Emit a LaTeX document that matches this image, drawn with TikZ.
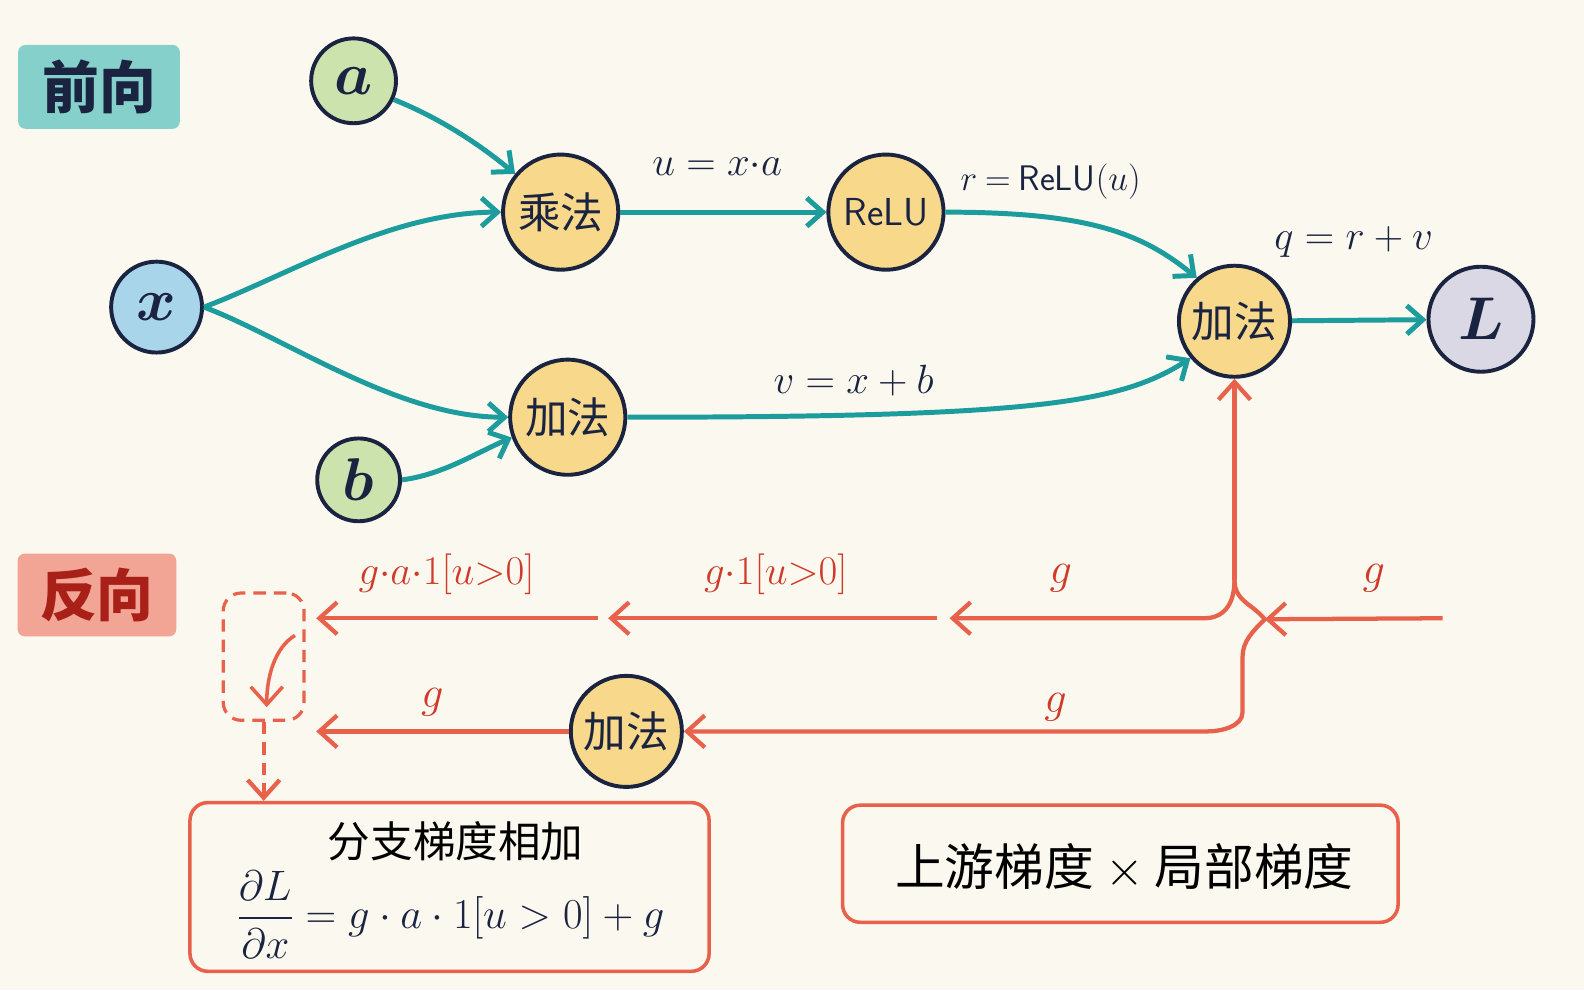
\RequirePackage{fix-cm}
\documentclass[tikz,border=0pt]{standalone}
\usepackage{amsmath}
\usepackage{fontspec}
\newfontfamily\cjk{Noto Sans CJK SC}
\usetikzlibrary{arrows.meta,calc}
\definecolor{bg}{HTML}{FBF8EF}
\definecolor{fteal}{HTML}{1C9C9C}
\definecolor{redc}{HTML}{E8614B}
\definecolor{redtext}{HTML}{D03A28}
\definecolor{navy}{HTML}{1A2340}
\definecolor{greenf}{HTML}{CCE3AE}
\definecolor{bluef}{HTML}{A8D5EA}
\definecolor{opf}{HTML}{F8D88A}
\definecolor{lavf}{HTML}{DAD8E5}
\definecolor{fwdbox}{HTML}{86D0CC}
\definecolor{bwdbox}{HTML}{F2A595}
\definecolor{bwdtext}{HTML}{A82018}
\begin{document}
\begin{tikzpicture}[x=0.02cm,y=-0.02cm,
  circ/.style={circle, draw=navy, line width=2.2pt, inner sep=0pt, text=navy},
  op/.style={circ, fill=opf, minimum size=2.28cm, font=\cjk\fontsize{24}{24}\selectfont},
  var/.style={circ, minimum size=1.7cm, font=\fontsize{34}{34}\selectfont\boldmath},
  fwd/.style={draw=fteal, line width=2.8pt, -{Straight Barb[length=9pt,width=16pt]}},
  bwd/.style={draw=redc, line width=2.4pt, -{Straight Barb[length=10pt,width=18pt]}},
  lab/.style={text=navy, font=\fontsize{23}{23}\selectfont},
  rlab/.style={text=redtext, font=\fontsize{23}{23}\selectfont},
  glab/.style={text=redtext, font=\fontsize{25}{25}\selectfont},
  tagbox/.style={rounded corners=4pt, minimum width=3.2cm, minimum height=1.66cm, font=\cjk\bfseries\fontsize{32}{32}\selectfont},
  infobox/.style={draw=redc, line width=2pt, rounded corners=10pt, fill=bg}
]
\fill[bg] (0,0) rectangle (1568,980);
\useasboundingbox (0,0) rectangle (1568,980);

% tags
\node[tagbox, fill=fwdbox, text=navy] (fwdtag) at (98,86) {前向};
\node[tagbox, fill=bwdbox, text=bwdtext, minimum width=3.14cm, minimum height=1.64cm] (bwdtag) at (96,589) {反向};

% forward nodes
\node[var, fill=greenf, minimum size=1.68cm] (a) at (350,80) {$a$};
\node[var, fill=bluef, minimum size=1.8cm] (x) at (155,304) {$x$};
\node[var, fill=greenf, minimum size=1.64cm] (b) at (355,475) {$b$};
\node[op] (mul) at (555,210) {乘法};
\node[op, font=\sffamily\fontsize{22}{22}\selectfont] (relu) at (877,210) {ReLU};
\node[op] (add1) at (562,413) {加法};
\node[op, minimum size=2.2cm] (addR) at (1222,318) {加法};
\node[var, fill=lavf, minimum size=2.08cm] (L) at (1466,316) {$L$};

% forward edges
\draw[fwd] (a.-25) .. controls +(50,20) and +(-30,-25) .. (mul.140);
\draw[fwd] (x.east) .. controls +(80,-30) and +(-110,0) .. (mul.west);
\draw[fwd] (x.east) .. controls +(80,30) and +(-110,0) .. (add1.west);
\draw[fwd] (b.east) .. controls +(40,-5) and +(-35,15) .. (add1.200);
\draw[fwd] (mul) -- (relu);
\draw[fwd] (relu.east) .. controls +(140,0) and +(-55,-45) .. (addR.131);
\draw[fwd] (add1.east) .. controls +(400,0) and +(-70,45) .. (addR.220);
\draw[fwd] (addR) -- (L);

% forward labels
\node[lab] (lu) at (710,165) {$u = x{\cdot}a$};
\node[lab, font=\fontsize{20}{20}\selectfont] (lr) at (1040,180) {$r \mathbin{=} \textsf{ReLU}(u)$};
\node[lab] (lq) at (1340,240) {$q = r + v$};
\node[lab] (lv) at (845,377) {$v = x + b$};

% backward
\node[op, minimum size=2.2cm] (add2) at (620,724) {加法};
\coordinate (fork) at (1222,574);
\coordinate (tl1) at (1192,612);
\coordinate (cross) at (1252,613);
\coordinate (inR) at (1428,612);
\coordinate (t1e) at (940,612);
\coordinate (t2s) at (928,612);
\coordinate (t2e) at (602,612);
\coordinate (t3s) at (592,612);
\coordinate (t3e) at (313,612);
\coordinate (b1) at (1230,650);
\coordinate (b2) at (1230,705);
\coordinate (b3) at (1195,724);
\coordinate (bl) at (313,724);

\draw[bwd] (fork) -- (addR.south);
\draw[bwd] (fork) .. controls +(0,26) and +(18,0) .. (tl1) -- (t1e);
\draw[bwd] (inR) -- (cross);
\draw[bwd] (fork) .. controls +(0,21) and +(-12,-15) .. (cross) .. controls +(-12,12) and +(0,-15) .. (b1) -- (b2) .. controls +(0,14) and +(14,0) .. (b3) -- (add2.east);
\draw[bwd] (t2s) -- (t2e);
\draw[bwd] (t3s) -- (t3e);
\draw[bwd] (add2.west) -- (bl);

% backward labels
\node[rlab] (lb1) at (442,568) {$g{\cdot}a{\cdot}1[u{>}0]$};
\node[rlab] (lb2) at (768,568) {$g{\cdot}1[u{>}0]$};
\node[glab] (lb3) at (1050,572) {$g$};
\node[glab] (lb4) at (1360,572) {$g$};
\node[glab] (lb5) at (428,695) {$g$};
\node[glab] (lb6) at (1045,700) {$g$};

% dashed merge box
\node[draw=redc, dash pattern=on 7pt off 4.5pt, rounded corners=10pt, line width=1.8pt, minimum width=1.6cm, minimum height=2.52cm] (dbox) at (261,650) {};
\coordinate (ca) at (292,629);
\coordinate (cb) at (264,700);
\draw[bwd, line width=2pt] (ca) .. controls +(-20,12) and +(0,-30) .. (cb);

% info boxes
\node[infobox, minimum width=10.28cm, minimum height=3.34cm] (box1) at (445,878) {};
\node[text=black, font=\cjk\fontsize{24}{24}\selectfont] (box1t) at (451,833) {分支梯度相加};
\node[text=navy, font=\fontsize{24}{24}\selectfont] (box1f) at (446,905) {$\displaystyle\frac{\partial L}{\partial x} = g\cdot a\cdot 1[u>0] + g$};
\draw[bwd, dash pattern=on 7pt off 4.5pt] (dbox.south) -- (dbox.south |- box1.north);

\node[infobox, minimum width=11cm, minimum height=2.32cm] (box2) at (1109,855) {};
\node[text=black, font=\cjk\fontsize{28}{28}\selectfont] (box2t) at (1113,858) {上游梯度 $\times$ 局部梯度};
\end{tikzpicture}
\end{document}
